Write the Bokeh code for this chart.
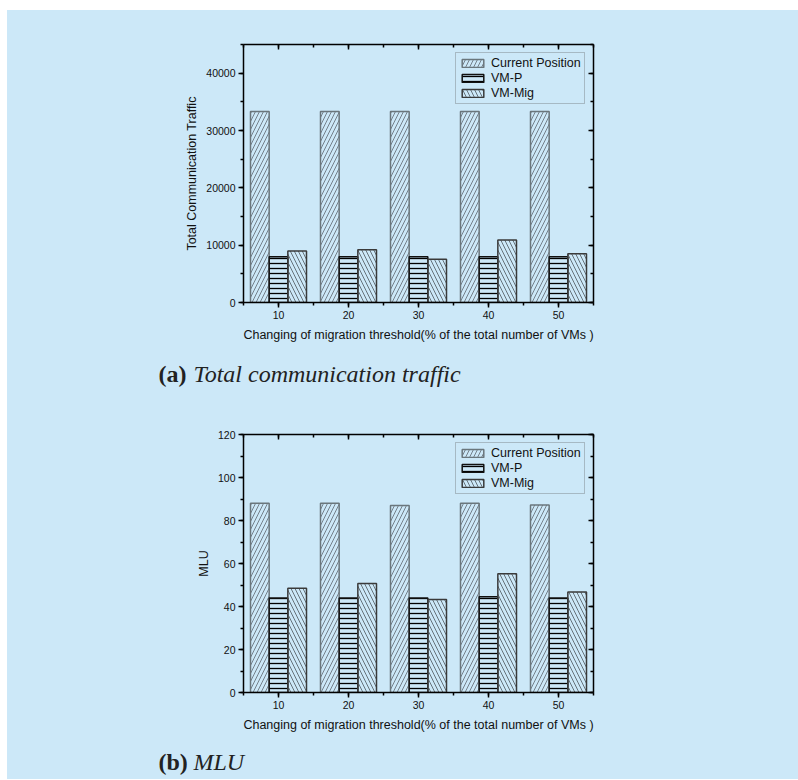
from bokeh.plotting import figure
from bokeh.models import (ColumnDataSource, LinearAxis, SingleIntervalTicker, Range1d,
                          Legend, LegendItem, CustomJSTickFormatter)
from bokeh.layouts import column
from bokeh.embed import file_html
from bokeh.resources import INLINE
from bokeh.core.properties import value

# ---------------- data ----------------
thresholds = [10, 20, 30, 40, 50]
series_names = ["Current Position", "VM-P", "VM-Mig"]

traffic_current = [33300, 33300, 33300, 33300, 33300]
traffic_vmp = [8000, 8000, 8000, 8000, 8000]
traffic_vmmig = [9000, 9200, 7550, 10900, 8500]

mlu_current = [88.0, 88.0, 87.0, 88.0, 87.2]
mlu_vmp = [44.0, 44.0, 44.0, 44.5, 44.0]
mlu_vmmig = [48.5, 50.7, 43.2, 55.2, 46.8]

x_title = "Changing of migration threshold(% of the total number of VMs )"
y_title_a = "Total Communication Traffic"
y_title_b = "MLU"
caption_a = ("(a)", "Total communication traffic")
caption_b = ("(b)", "MLU")

BG = "#cce8f8"
SANS = "Liberation Sans"
SERIF = "Liberation Serif"
W = 791

styles = [
    dict(hatch_pattern="/", hatch_color="#74808a", hatch_scale=8, hatch_weight=1,
         line_color="#6a767c"),
    dict(hatch_pattern="-", hatch_color="#000000", hatch_scale=5, hatch_weight=1.3,
         line_color="#111111"),
    dict(hatch_pattern="\\", hatch_color="#66727a", hatch_scale=8, hatch_weight=1,
         line_color="#3a3a3a"),
]

BAR_W = 8 / 3


def make_chart(series, ymax, yint, ytitle, height, top_b, bottom_b):
    p = figure(width=W, height=height, output_backend="svg", toolbar_location=None,
               x_range=Range1d(5, 55), y_range=Range1d(0, ymax),
               min_border_left=236, min_border_right=W - 236 - 350,
               min_border_top=top_b, min_border_bottom=bottom_b,
               background_fill_color=BG, border_fill_color=BG, outline_line_color=None)
    p.xgrid.visible = False
    p.ygrid.visible = False

    renderers = []
    offsets = [-BAR_W, 0, BAR_W]
    for vals, off, st in zip(series, offsets, styles):
        src = ColumnDataSource(dict(x=[t + off for t in thresholds], top=vals))
        r = p.vbar(x="x", top="top", width=BAR_W, bottom=0, source=src,
                   fill_color=None, line_width=1.5, **st)
        renderers.append(r)

    xt = SingleIntervalTicker(interval=10, num_minor_ticks=2)
    yt = SingleIntervalTicker(interval=yint, num_minor_ticks=2)
    blank = CustomJSTickFormatter(code="return ''")

    for ax in p.xaxis:
        ax.ticker = xt
    for ax in p.yaxis:
        ax.ticker = yt

    def style(ax, inward):
        ax.axis_line_width = 1.5
        ax.axis_line_color = "black"
        ax.major_tick_line_width = 1.5
        ax.minor_tick_line_width = 1.5
        if inward:
            ax.major_tick_in, ax.major_tick_out = 5, 0
            ax.minor_tick_in, ax.minor_tick_out = 3, 0
        else:
            ax.major_tick_in, ax.major_tick_out = 0, 5
            ax.minor_tick_in, ax.minor_tick_out = 0, 3
        ax.major_label_text_font = SANS
        ax.major_label_text_font_size = "10.5px"
        ax.major_label_text_color = "#111111"
        ax.axis_label_text_font = SANS
        ax.axis_label_text_font_size = "12.5px"
        ax.axis_label_text_font_style = "normal"
        ax.axis_label_text_color = "#111111"

    p.xaxis.axis_label = x_title
    p.yaxis.axis_label = ytitle
    style(p.xaxis[0], False)
    style(p.yaxis[0], False)
    p.xaxis[0].major_label_standoff = 3
    p.yaxis[0].major_label_standoff = 3
    p.xaxis[0].axis_label_standoff = 6
    p.yaxis[0].axis_label_standoff = 4

    top_ax = LinearAxis(ticker=xt, formatter=blank)
    right_ax = LinearAxis(ticker=yt, formatter=blank)
    style(top_ax, True)
    style(right_ax, True)
    top_ax.major_label_standoff = 0
    right_ax.major_label_standoff = 0
    p.add_layout(top_ax, "above")
    p.add_layout(right_ax, "right")

    legend = Legend(items=[LegendItem(label=n, renderers=[r]) for n, r in zip(series_names, renderers)],
                    location=(212, 198), orientation="vertical",
                    glyph_width=27, glyph_height=10, label_height=12, label_standoff=5,
                    spacing=1, padding=3, margin=0,
                    label_text_font=SANS, label_text_font_size="12.5px", label_text_color="#111111",
                    border_line_color="#7f8a90", border_line_width=1.5,
                    background_fill_color=None, background_fill_alpha=0)
    p.add_layout(legend, "center")
    return p


def make_caption(caption, height, baseline):
    c = figure(width=W, height=height, output_backend="svg", toolbar_location=None,
               title=None, x_range=Range1d(0, W), y_range=Range1d(0, height),
               x_axis_type=None, y_axis_type=None, min_border=0,
               background_fill_color=BG, border_fill_color=BG, outline_line_color=None)
    c.frame_align = False
    c.xgrid.visible = False
    c.ygrid.visible = False
    c.text(x=[151], y=[baseline], text=[caption[0]], text_font=value(SERIF),
           text_font_size="24px", text_font_style="bold", text_color="#222222",
           text_baseline="alphabetic", text_align="left")
    c.text(x=[186], y=[baseline], text=[caption[1]], text_font=value(SERIF),
           text_font_size="24px", text_font_style="italic", text_color="#222222",
           text_baseline="alphabetic", text_align="left")
    return c


p1 = make_chart([traffic_current, traffic_vmp, traffic_vmmig], 45000, 10000, y_title_a,
                340, 34, 48)
c1 = make_caption(caption_a, 60, 37)
p2 = make_chart([mlu_current, mlu_vmp, mlu_vmmig], 120, 20, y_title_b,
                330, 24, 48)
c2 = make_caption(caption_b, 39, 18)

layout = column(p1, c1, p2, c2, spacing=0, margin=(10, 0, 0, 7),
                styles={"background-color": BG})
open("out.html", "w").write(file_html(layout, INLINE))
